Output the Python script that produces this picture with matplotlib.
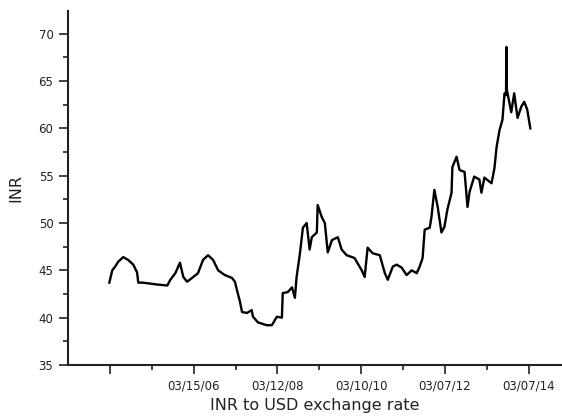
import matplotlib
matplotlib.use("Agg")
import matplotlib.pyplot as plt
import pandas as pd

# INR per USD, sampled by eye at turning points (decimal year, rate)
years = [2004.19, 2004.26, 2004.33, 2004.40, 2004.52, 2004.64, 2004.76, 2004.85,
         2004.88, 2004.99, 2005.16, 2005.33, 2005.57, 2005.64, 2005.76, 2005.87,
         2005.95, 2006.04, 2006.16, 2006.30, 2006.42, 2006.54, 2006.66, 2006.78,
         2006.94, 2007.11, 2007.18, 2007.23, 2007.30, 2007.35, 2007.47, 2007.58,
         2007.61, 2007.73, 2007.94, 2008.06, 2008.18, 2008.30, 2008.32, 2008.44,
         2008.54, 2008.61, 2008.65, 2008.73, 2008.80, 2008.89, 2008.96, 2009.01,
         2009.13, 2009.15, 2009.25, 2009.32, 2009.39, 2009.49, 2009.63, 2009.72,
         2009.84, 2010.03, 2010.20, 2010.27, 2010.34, 2010.46, 2010.63, 2010.75,
         2010.82, 2010.94, 2011.03, 2011.15, 2011.27, 2011.39, 2011.51, 2011.58,
         2011.65, 2011.70, 2011.82, 2011.86, 2011.93, 2012.01, 2012.10, 2012.17,
         2012.24, 2012.34, 2012.36, 2012.46, 2012.53, 2012.65, 2012.72, 2012.77,
         2012.88, 2013.00, 2013.05, 2013.12, 2013.29, 2013.36, 2013.41, 2013.48,
         2013.55, 2013.60, 2013.635, 2013.645, 2013.655, 2013.76, 2013.83, 2013.91,
         2014.00, 2014.07, 2014.14, 2014.215]
inr = [43.7, 45.0, 45.4, 45.9, 46.4, 46.1, 45.6, 44.8,
       43.7, 43.7, 43.6, 43.5, 43.4, 44.0, 44.7, 45.8,
       44.3, 43.8, 44.2, 44.7, 46.1, 46.6, 46.1, 45.0,
       44.5, 44.2, 43.8, 42.9, 41.7, 40.6, 40.5, 40.8,
       40.1, 39.5, 39.2, 39.2, 40.1, 40.0, 42.6, 42.7,
       43.2, 42.1, 44.3, 46.8, 49.5, 50.0, 47.2, 48.5,
       49.0, 51.9, 50.6, 50.0, 46.9, 48.2, 48.5, 47.2,
       46.6, 46.3, 45.0, 44.3, 47.4, 46.8, 46.6, 44.7,
       44.0, 45.4, 45.6, 45.3, 44.5, 45.0, 44.7, 45.4,
       46.3, 49.3, 49.5, 50.6, 53.5, 51.7, 49.0, 49.6,
       51.4, 53.2, 55.9, 57.0, 55.6, 55.4, 51.7, 53.3,
       54.9, 54.6, 53.2, 54.8, 54.2, 55.8, 58.0, 59.8,
       60.9, 63.7, 63.5, 68.6, 64.1, 61.7, 63.7, 61.1,
       62.3, 62.8, 62.0, 60.0]

tick_dates = ["2004-03-17", "2006-03-15", "2008-03-12", "2010-03-10",
              "2012-03-07", "2014-03-05"]
tick_labels = ["", "03/15/06", "03/12/08", "03/10/10", "03/07/12", "03/07/14"]


def to_date(y):
    start = pd.Timestamp(int(y), 1, 1)
    return start + pd.Timedelta(days=(y - int(y)) * 365.25)


dates = [to_date(y) for y in years]
majors = pd.to_datetime(tick_dates)
minors = [majors[i] + (majors[i + 1] - majors[i]) / 2 for i in range(len(majors) - 1)]

plt.rcParams['font.family'] = ['DejaVu Sans']

fig = plt.figure(figsize=(5.62, 4.16), dpi=100)
ax = fig.add_axes([0.121, 0.1226, 0.879, 0.851])

ax.plot(dates, inr, color='black', lw=1.7)

ax.set_ylim(35, 72.4)
ax.set_xlim(pd.Timestamp("2003-03-17"), pd.Timestamp("2014-12-21"))
ax.set_yticks([35, 40, 45, 50, 55, 60, 65, 70])
ax.set_yticks([37.5, 42.5, 47.5, 52.5, 57.5, 62.5, 67.5], minor=True)
ax.set_xticks(majors)
ax.set_xticklabels(tick_labels)
ax.set_xticks(minors, minor=True)

for side in ['top', 'right']:
    ax.spines[side].set_visible(False)
for side in ['left', 'bottom']:
    ax.spines[side].set_linewidth(1.5)
    ax.spines[side].set_color('#222222')

ax.tick_params(which='major', direction='out', length=6.5, width=1.2,
               labelsize=8.5, pad=4, colors='#222222')
ax.tick_params(which='minor', direction='out', length=3.5, width=1.2, colors='#222222')

ax.set_xlabel("INR to USD exchange rate", fontsize=11.5, color='#222222', labelpad=4)
ax.set_ylabel("INR", fontsize=11.5, color='#222222', labelpad=11)

fig.savefig("out.png", dpi=100)
